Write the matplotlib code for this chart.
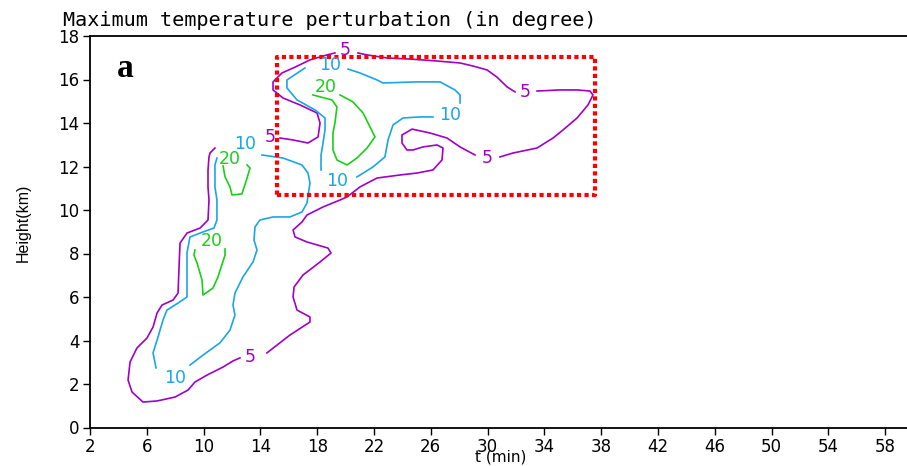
import matplotlib
matplotlib.use("Agg")
import matplotlib.pyplot as plt

# ---------------- data ----------------
title = "Maximum temperature perturbation (in degree)"
xlabel = "t (min)"
ylabel = "Height(km)"
panel_label = "a"
xticks = [2, 6, 10, 14, 18, 22, 26, 30, 34, 38, 42, 46, 50, 54, 58]
yticks = [0, 2, 4, 6, 8, 10, 12, 14, 16, 18]
levels = [5, 10, 20]

# contour 5 (purple), segments between labels
c5_a_t = [15.38, 16.30, 17.35, 18.06, 18.20, 17.99, 16.79, 15.59, 14.89, 14.89, 15.52, 16.44, 17.49, 18.69, 19.25]
c5_a_z = [13.31, 13.22, 13.08, 13.36, 14.00, 14.46, 14.83, 15.15, 15.52, 15.89, 16.30, 16.57, 16.90, 17.13, 17.22]
c5_b_t = [20.87, 21.51, 22.92, 24.54, 26.44, 28.06, 28.97, 29.96, 30.66, 31.37, 31.93]
c5_b_z = [17.22, 17.13, 16.99, 16.94, 16.85, 16.76, 16.62, 16.44, 16.11, 15.66, 15.43]
c5_c_t = [33.48, 35.10, 36.30, 37.21, 37.42, 37.07, 36.30, 35.31, 34.61, 33.48, 31.79, 30.87]
c5_c_z = [15.47, 15.52, 15.52, 15.47, 15.29, 14.83, 14.23, 13.68, 13.31, 12.85, 12.62, 12.44]
c5_d_t = [29.11, 28.06, 27.14, 25.94, 24.68, 23.97, 23.97, 24.32, 24.75, 25.45, 26.44, 26.86, 26.79,
          26.15, 25.03, 23.83, 22.21, 21.01, 20.10, 19.61, 18.41, 17.28, 16.93, 16.30, 16.44, 17.28,
          18.76, 18.97, 18.20, 17.00, 16.37, 16.30, 16.58, 17.49, 17.49, 16.08, 14.46]
c5_d_z = [12.53, 12.90, 13.31, 13.54, 13.72, 13.45, 13.08, 12.76, 12.76, 12.90, 12.99, 12.85, 12.30,
          11.84, 11.70, 11.61, 11.47, 11.06, 10.60, 10.46, 10.14, 9.77, 9.45, 9.08, 8.76, 8.53,
          8.25, 8.02, 7.61, 7.01, 6.46, 6.00, 5.40, 5.08, 4.85, 4.25, 3.43]
c5_e_t = [12.56, 12.07, 11.37, 10.24, 9.39, 8.90, 7.99, 6.72, 5.73, 4.96, 4.68, 4.82, 5.31, 6.01,
          6.44, 6.72, 7.07, 7.85, 8.20, 8.27, 8.34, 8.83, 9.75, 10.31, 10.38, 10.31, 10.31, 10.38,
          10.45, 10.80]
c5_e_z = [3.20, 3.06, 2.78, 2.41, 2.09, 1.72, 1.40, 1.22, 1.17, 1.63, 2.18, 3.01, 3.66, 4.11,
          4.62, 5.26, 5.63, 5.86, 6.18, 7.38, 8.48, 8.94, 9.17, 9.54, 10.46, 11.06, 11.84, 12.44,
          12.62, 12.85]

# contour 10 (blue)
c10_a_t = [14.11, 15.59, 16.93, 17.35, 17.49, 17.28, 16.93, 16.08, 14.89, 13.97, 13.62, 13.55, 13.76,
           13.48, 12.77, 12.21, 12.07, 12.21, 11.86, 11.15, 9.96, 9.04]
c10_a_z = [12.53, 12.39, 12.07, 11.70, 11.24, 10.32, 9.91, 9.68, 9.68, 9.54, 9.22, 8.62, 8.16,
           7.61, 6.92, 6.18, 5.63, 5.17, 4.48, 3.89, 3.33, 2.87]
c10_b_t = [6.65, 6.44, 6.79, 7.14, 7.42, 8.20, 8.83, 8.83, 8.83, 9.04, 9.96, 10.73, 10.94, 10.94,
           10.80, 10.80, 10.94]
c10_b_z = [2.74, 3.43, 4.16, 4.94, 5.40, 5.72, 6.00, 6.78, 8.02, 8.76, 8.99, 9.17, 9.54, 10.46,
           11.06, 12.07, 12.39]
c10_c_t = [17.14, 15.87, 15.87, 16.58, 17.85, 18.55, 18.55, 18.41, 18.27, 18.27]
c10_c_z = [16.53, 15.98, 15.61, 15.06, 14.60, 14.23, 13.68, 13.08, 12.53, 11.84]
c10_d_t = [20.80, 21.93, 22.77, 22.99, 23.34, 24.04, 25.24, 26.15]
c10_d_z = [11.52, 11.98, 12.44, 13.22, 13.91, 14.23, 14.28, 14.28]
c10_e_t = [28.06, 28.06, 27.70, 26.65, 25.03, 22.63, 22.21, 21.01, 20.17]
c10_e_z = [14.92, 15.29, 15.52, 15.89, 15.89, 15.84, 15.98, 16.30, 16.48]

# contour 20 (green)
c20_a_t = [17.70, 19.04, 19.39, 19.25, 19.11, 19.11, 19.39, 20.10, 20.80, 21.51, 22.07, 21.72, 21.23, 20.52, 19.61]
c20_a_z = [15.29, 15.06, 14.74, 14.00, 13.54, 12.76, 12.30, 12.07, 12.39, 12.85, 13.36, 13.82, 14.46, 14.97, 15.29]
c20_b_t = [11.37, 11.51, 11.86, 12.00, 12.70, 13.06, 13.27, 13.06]
c20_b_z = [12.02, 11.52, 11.06, 10.69, 10.74, 11.47, 11.93, 12.07]
c20_c_t = [9.39, 9.32, 9.54, 9.89, 9.96, 10.66, 11.01, 11.51, 11.51]
c20_c_z = [8.16, 7.93, 7.56, 6.78, 6.09, 6.41, 6.92, 7.93, 8.21]

# contour labels
label_t = [14.68, 19.96, 32.63, 29.96, 13.27, 12.95, 7.99, 18.90, 19.39, 27.35, 18.62, 11.85, 10.59]
label_z = [13.36, 17.36, 15.43, 12.39, 3.24, 13.02, 2.28, 16.67, 11.33, 14.37, 15.66, 12.36, 8.57]
label_level = [5, 5, 5, 5, 5, 10, 10, 10, 10, 10, 20, 20, 20]

# highlighted region (red dotted box)
box_t0, box_t1 = 15.17, 37.56
box_z0, box_z1 = 10.70, 17.03

# ---------------- styling ----------------
colors = {5: "#A000C8", 10: "#1AA6E6", 20: "#18D018"}
segments = {
    5: [(c5_a_t, c5_a_z), (c5_b_t, c5_b_z), (c5_c_t, c5_c_z), (c5_d_t, c5_d_z), (c5_e_t, c5_e_z)],
    10: [(c10_a_t, c10_a_z), (c10_b_t, c10_b_z), (c10_c_t, c10_c_z), (c10_d_t, c10_d_z), (c10_e_t, c10_e_z)],
    20: [(c20_a_t, c20_a_z), (c20_b_t, c20_b_z), (c20_c_t, c20_c_z)],
}

W, H = 907, 466
fig = plt.figure(figsize=(W / 100, H / 100), dpi=100)
ax = fig.add_axes([90 / W, 1 - 427.5 / H, (W - 90) / W, (427.5 - 36) / H])

for lev in levels:
    for t, z in segments[lev]:
        ax.plot(t, z, color=colors[lev], lw=1.2, solid_joinstyle="round")

for t, z, lev in zip(label_t, label_z, label_level):
    ax.text(t, z, str(lev), color=colors[lev], fontsize=12.5, ha="center", va="center",
            family="DejaVu Sans")

ax.plot([box_t0, box_t1, box_t1, box_t0, box_t0], [box_z0, box_z0, box_z1, box_z1, box_z0],
        color="#FF0000", lw=3.0, linestyle=(0, (1, 0.8)), dash_capstyle="butt")

ax.text(3.9, 16.11, panel_label, fontsize=24, fontweight="bold", family="Liberation Serif",
        ha="left", va="baseline")

ax.set_xlim(2, 2 + (W - 90) / 14.2)
ax.set_ylim(0, 18)
ax.set_xticks(xticks)
ax.set_yticks(yticks)
ax.tick_params(direction="out", length=5, width=1.0, labelsize=12, pad=2.5)
for s in ["left", "top", "bottom"]:
    ax.spines[s].set_linewidth(1.3)
ax.spines["right"].set_visible(False)

fig.text(63 / W, 1 - 26 / H, title, fontsize=14.5, family="DejaVu Sans Mono", ha="left", va="baseline")
fig.text(501 / W, 1 - 465 / H, xlabel, fontsize=11, ha="center", va="bottom")
fig.text(23 / W, 1 - 223 / H, ylabel, fontsize=11.5, rotation=90, ha="center", va="center",
         family=["Liberation Sans Narrow", "Liberation Sans"])

fig.savefig("out.png", dpi=100)
